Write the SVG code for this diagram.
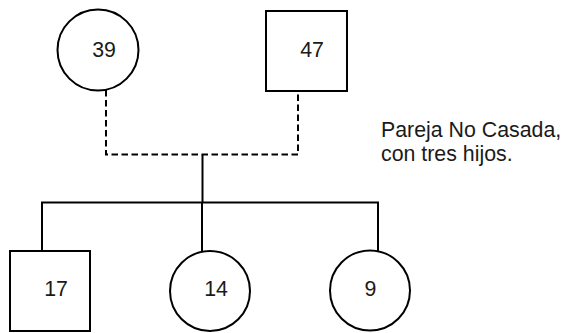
<svg xmlns="http://www.w3.org/2000/svg" width="565" height="333" viewBox="0 0 565 333">
<style>
.shape{fill:#fff;stroke:#000;stroke-width:2}
.lbl{font-family:"Liberation Sans",Arial,sans-serif;font-size:21.33px;fill:#1a1a1a;text-anchor:middle}
.note{font-family:"Liberation Sans",Arial,sans-serif;font-size:21.33px;fill:#1a1a1a}
.line{fill:none;stroke:#000;stroke-width:2}
.dash{fill:none;stroke:#000;stroke-width:2;stroke-dasharray:6.5 3.5}
</style>
<rect width="565" height="333" fill="#fff"/>
<g id="connectors">
<path class="dash" d="M106 90 V154.5 H298 V91"/>
<path class="line" d="M202.5 154.5 V202.5"/>
<path class="line" d="M42 251 V202.5 H378 V251"/>
<path class="line" d="M202 202.5 V251"/>
</g>
<g id="n39"><circle class="shape" cx="98" cy="50" r="40.5"/><text class="lbl" x="104" y="57">39</text></g>
<g id="n47"><rect class="shape" x="266" y="11" width="81" height="80"/><text class="lbl" x="312" y="57">47</text></g>
<g id="n17"><rect class="shape" x="10" y="251" width="80" height="80"/><text class="lbl" x="56" y="296">17</text></g>
<g id="n14"><circle class="shape" cx="210" cy="291" r="40"/><text class="lbl" x="216" y="296">14</text></g>
<g id="n9"><circle class="shape" cx="370" cy="290.5" r="40"/><text class="lbl" x="370.5" y="296">9</text></g>
<g id="note"><text class="note" x="381" y="137">Pareja No Casada,</text><text class="note" x="381" y="161">con tres hijos.</text></g>
</svg>
